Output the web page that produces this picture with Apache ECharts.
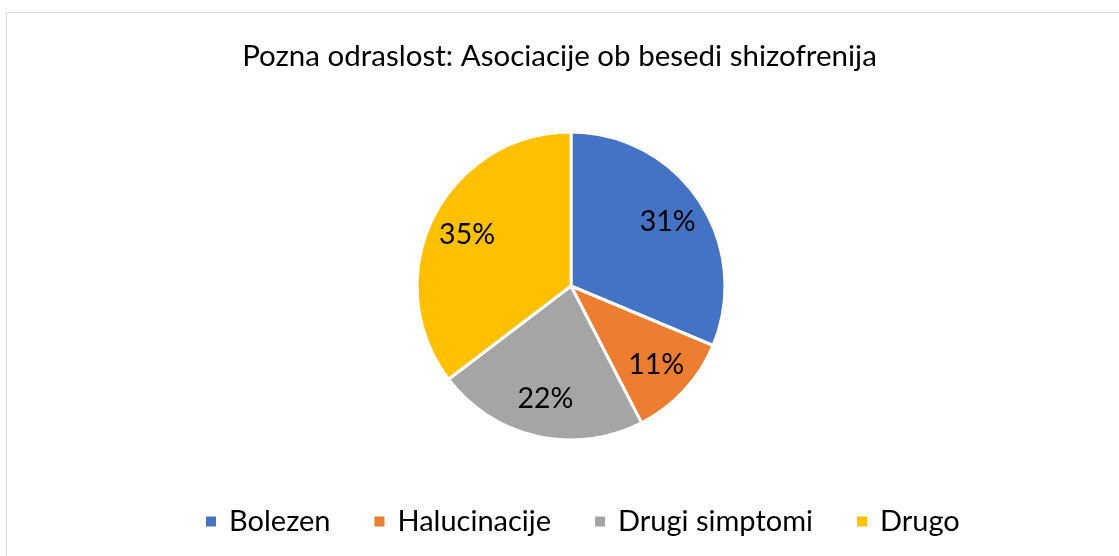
<!DOCTYPE html>
<html>
<head>
<meta charset="utf-8">
<script src="https://cdn.jsdelivr.net/npm/echarts@6/dist/echarts.min.js"></script>
<style>
    html, body { margin: 0; padding: 0; background: #fff; }
    #frame { position: absolute; left: 6px; top: 12px; width: 1200px; height: 600px; border: 1px solid #d9d9d9; }
    #pieChart { position: absolute; left: 0; top: 0; width: 1119px; height: 556px; }
</style>
</head>
<body>
<div id="frame"></div>
<div id="pieChart"></div>
<script>
// podatki
var categories = ['Bolezen', 'Halucinacije', 'Drugi simptomi', 'Drugo'];
var values = [31, 11, 22, 35];
var colors = ['#4472c4', '#ed7d31', '#a5a5a5', '#ffc000'];

var fontName = 'Lato';
var pieData = categories.map(function (name, i) {
    return { name: name, value: values[i] };
});

var myChart = echarts.init(document.getElementById('pieChart'));
myChart.setOption({
    animation: false,
    color: colors,
    title: {
        text: 'Pozna odraslost: Asociacije ob besedi shizofrenija',
        left: 'center',
        top: 36,
        textStyle: { fontFamily: fontName, fontSize: 29.5, fontWeight: 'normal', color: '#000' }
    },
    legend: {
        data: categories,
        bottom: 15,
        left: 199,
        icon: 'rect',
        itemWidth: 12,
        itemHeight: 12,
        itemGap: 42,
        textStyle: { fontFamily: fontName, fontSize: 29, color: '#000', padding: [0, 0, 0, 7] }
    },
    series: [{
        // vidni krog
        type: 'pie',
        center: [571, 286],
        radius: 154,
        startAngle: 90,
        silent: true,
        label: { show: false },
        labelLine: { show: false },
        itemStyle: { borderColor: '#fff', borderWidth: 3 },
        data: pieData
    }, {
        // samo oznake (postavljene bliže robu kot pri 'inside')
        type: 'pie',
        center: [571, 286],
        radius: [0, 226],
        startAngle: 90,
        silent: true,
        itemStyle: { color: 'rgba(0,0,0,0)' },
        label: {
            position: 'inside',
            fontFamily: fontName,
            fontSize: 28.5,
            color: '#000',
            formatter: function (p) { return p.value + '%'; }
        },
        labelLine: { show: false },
        data: pieData
    }]
});
</script>
</body>
</html>
